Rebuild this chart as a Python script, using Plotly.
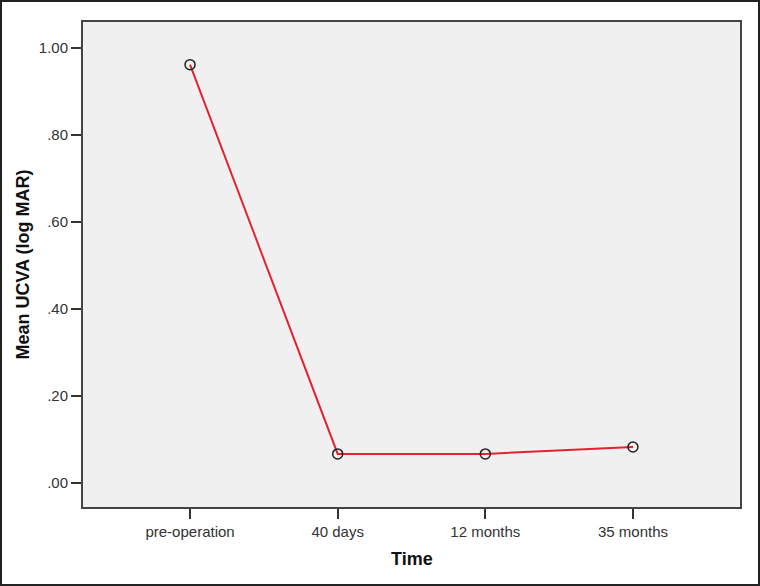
import plotly.graph_objects as go

categories = ["pre-operation", "40 days", "12 months", "35 months"]
mean_ucva = [0.962, 0.067, 0.067, 0.083]
y_tick_vals = [0.0, 0.2, 0.4, 0.6, 0.8, 1.0]
y_tick_text = [".00", ".20", ".40", ".60", ".80", "1.00"]
x_title = "Time"
y_title = "Mean UCVA (log MAR)"

W, H = 760, 586
L, R, T, B = 83, 20, 22, 79
pw, ph = W - L - R, H - T - B

fig = go.Figure()
fig.add_trace(go.Scatter(
    x=list(range(len(categories))), y=mean_ucva,
    mode="lines+markers",
    line=dict(color="#E3222E", width=2),
    marker=dict(symbol="circle-open", size=10, color="#222222", line=dict(width=1.5, color="#222222")),
    showlegend=False,
))

fig.update_layout(
    width=W, height=H,
    margin=dict(l=L, r=R, t=T, b=B),
    paper_bgcolor="white",
    plot_bgcolor="#F0F0F0",
    font=dict(family="Arial, Liberation Sans, sans-serif", color="#333333", size=14),
    xaxis=dict(
        range=[-0.725, 3.725],
        tickmode="array", tickvals=list(range(len(categories))), ticktext=categories,
        ticks="outside", ticklen=10, tickwidth=2, tickcolor="#333333",
        showline=True, linecolor="#444444", linewidth=2, mirror=True,
        showgrid=False, zeroline=False,
        tickfont=dict(size=15, color="#333333"),
    ),
    yaxis=dict(
        range=[-0.055, 1.06],
        tickmode="array", tickvals=y_tick_vals, ticktext=y_tick_text,
        ticks="outside", ticklen=10, tickwidth=2, tickcolor="#333333",
        showline=True, linecolor="#444444", linewidth=2, mirror=True,
        showgrid=False, zeroline=False,
        tickfont=dict(size=15, color="#333333"),
    ),
    annotations=[
        dict(text="<b>" + x_title + "</b>", xref="paper", yref="paper",
             x=0.5, y=(H - B - 559) / ph, xanchor="center", yanchor="middle",
             showarrow=False, font=dict(size=18, color="#111111")),
        dict(text="<b>" + y_title + "</b>", xref="paper", yref="paper",
             x=(22 - L) / pw, y=0.5, xanchor="center", yanchor="middle", textangle=-90,
             showarrow=False, font=dict(size=18, color="#111111")),
    ],
    shapes=[dict(
        type="rect", xref="paper", yref="paper",
        x0=(-L + 1) / pw, x1=(W - L - 1) / pw,
        y0=(-B + 1) / ph, y1=(H - B - 1) / ph,
        line=dict(color="#222222", width=2), fillcolor="rgba(0,0,0,0)", layer="above",
    )],
)

fig.write_html("out.html", config={"displayModeBar": False},
               post_script="document.body.style.margin='0';document.body.style.padding='0';")
